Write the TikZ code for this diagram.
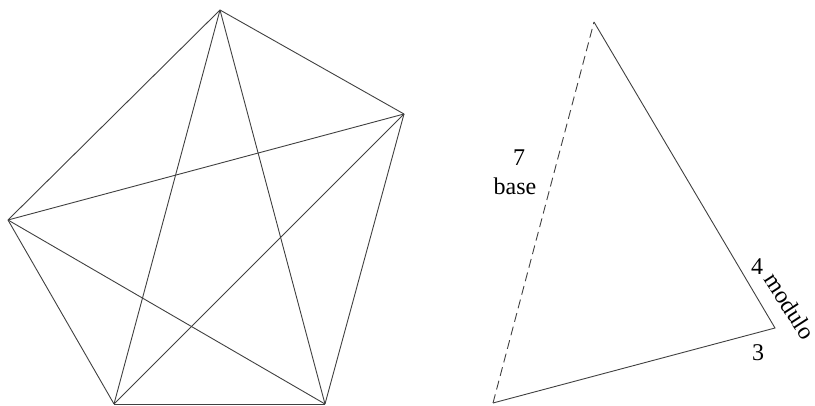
\documentclass[tikz,border=0pt]{standalone}
\usepackage{fontspec}
\setmainfont{Liberation Serif}
\usetikzlibrary{positioning}

\tikzset{
  edge/.style={draw=black!75, line width=0.9pt},
  lbl/.style={inner sep=0pt, font=\fontsize{24}{28}\selectfont}
}

\begin{document}
\begin{tikzpicture}[x=1pt,y=-1pt]
                \useasboundingbox (0,0) rectangle (815,406);
                % Pentagon vertices
                \coordinate (p1) at (220,10);
                \coordinate (p2) at (404,114);
                \coordinate (p3) at (325,404);
                \coordinate (p4) at (114,404);
                \coordinate (p5) at (8,220);
                
                % Pentagon with all diagonals
                \foreach \a/\b in {p1/p2,p2/p3,p3/p4,p4/p5,p5/p1,p1/p3,p1/p4,p2/p4,p2/p5,p3/p5}
                  \draw[edge] (\a) -- (\b);
                
                % Triangle
                \coordinate (top) at (594,22);
                \coordinate (right) at (775,328);
                \coordinate (left) at (493,403);
                \draw[edge] (top) -- (right) -- (left);
                \draw[edge,dash pattern=on 9pt off 5pt] (left) -- (top);
                
                % Labels
                \node[lbl] (seven) at (519,158) {7};
                \node[lbl] (base) at (515,186) {base};
                \node[lbl] (four) at (757,267) {4};
                \node[lbl,rotate=-57] (modulo) at (790,306) {modulo};
                \node[lbl] (three) at (758,353) {3};
            \end{tikzpicture}
\end{document}
